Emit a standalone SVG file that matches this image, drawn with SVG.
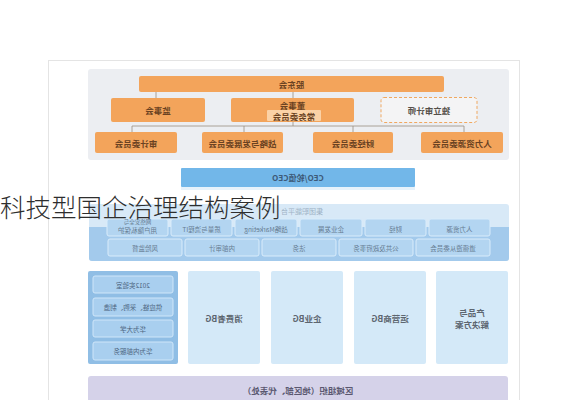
<svg xmlns="http://www.w3.org/2000/svg" width="566" height="400" viewBox="0 0 566 400">
<style>
.t{font-family:"Noto Sans CJK SC","Noto Sans",sans-serif;text-anchor:middle;dominant-baseline:central}
.o{fill:#f3a45b}
.ot{font-size:8.5px;font-weight:700;fill:#6a4222}
.bt{font-size:6.5px;fill:#667c92}
.fb{fill:#b3d5f1;stroke:#d9ecfb;stroke-width:1}
.col{fill:#d4e9f8}
.ct{font-size:8.5px;font-weight:700;fill:#5d6670}
.lt{font-size:6.5px;fill:#4d6580}
.ib{fill:#a9cfef;stroke:#cfe6f9;stroke-width:1}
.c{stroke:#9a8d80;stroke-width:0.8;fill:none}
</style>
<rect x="0" y="0" width="566" height="400" fill="#ffffff"/>
<rect x="48.5" y="60.5" width="471" height="345" fill="#ffffff" stroke="#e4e4e4"/>
<rect id="gov-panel" x="88" y="69" width="421" height="91" rx="3" fill="#eceef2"/>
<g id="connectors">
<line class="c" x1="156" y1="92" x2="156" y2="98"/>
<line class="c" x1="293" y1="92" x2="293" y2="98"/>
<line class="c" x1="293" y1="122" x2="293" y2="126"/>
<line class="c" x1="132" y1="126" x2="464" y2="126"/>
<line class="c" x1="132" y1="126" x2="132" y2="133"/>
<line class="c" x1="244" y1="126" x2="244" y2="133"/>
<line class="c" x1="353" y1="126" x2="353" y2="133"/>
<line class="c" x1="464" y1="126" x2="464" y2="133"/>
</g>
<g id="shareholders">
<rect class="o" x="139" y="76" width="305" height="16" rx="2"/>
<text class="t ot" x="291.5" y="84" transform="matrix(-1 0 0 1 583 0)">股东会</text>
</g>
<g id="supervisory">
<rect class="o" x="111" y="98" width="94" height="24" rx="2"/>
<text class="t ot" x="158" y="110" transform="matrix(-1 0 0 1 316 0)">监事会</text>
</g>
<g id="board">
<rect class="o" x="231" y="98" width="123" height="24" rx="2"/>
<text class="t ot" x="292.5" y="104.5" transform="matrix(-1 0 0 1 585 0)">董事会</text>
<rect x="267" y="110" width="54" height="11" rx="1" fill="#fbd2a6"/>
<text class="t ot" x="294" y="115.5" transform="matrix(-1 0 0 1 588 0)">常务委员会</text>
</g>
<g id="auditor">
<rect x="381" y="97.5" width="96" height="25" rx="3" fill="#f4f4f5" stroke="#f0a860" stroke-width="1" stroke-dasharray="3,2"/>
<text class="t ot" x="429" y="110" style="fill:#55504a" transform="matrix(-1 0 0 1 858 0)">独立审计师</text>
</g>
<g id="audit-committee">
<rect class="o" x="95" y="132" width="82" height="21" rx="2"/>
<text class="t ot" x="136" y="142.5" transform="matrix(-1 0 0 1 272 0)">审计委员会</text>
</g>
<g id="strategy-committee">
<rect class="o" x="202" y="132" width="81" height="21" rx="2"/>
<text class="t ot" x="242.5" y="142.5" transform="matrix(-1 0 0 1 485 0)">战略与发展委员会</text>
</g>
<g id="finance-committee">
<rect class="o" x="313" y="132" width="80" height="21" rx="2"/>
<text class="t ot" x="353" y="142.5" transform="matrix(-1 0 0 1 706 0)">财经委员会</text>
</g>
<g id="hr-committee">
<rect class="o" x="421" y="132" width="82" height="21" rx="2"/>
<text class="t ot" x="462" y="142.5" transform="matrix(-1 0 0 1 924 0)">人力资源委员会</text>
</g>
<g id="ceo">
<rect x="181" y="168" width="234" height="19" rx="1" fill="#72b7e9"/>
<rect x="181" y="187" width="234" height="3" fill="#e6f2fb"/>
<text class="t" x="298" y="177.5" style="font-size:8px;font-weight:700;fill:#3d5a78" transform="matrix(-1 0 0 1 596 0)">CEO/轮值CEO</text>
</g>
<g id="group-functions">
<rect x="89" y="204" width="420" height="57" rx="3" fill="#d8e9f7"/>
<path d="M89 227 H509 V258 a3 3 0 0 1 -3 3 H92 a3 3 0 0 1 -3 -3 Z" fill="#a3caec"/>
<text class="t" x="302" y="211" style="font-size:7px;fill:#9fb3c6" transform="matrix(-1 0 0 1 604 0)">集团职能平台</text>
<rect class="fb" x="107" y="219" width="61" height="17" rx="2"/>
<text class="t bt" x="137.5" y="222" style="font-size:5.5px" transform="matrix(-1 0 0 1 275 0)">网络安全与</text>
<text class="t bt" x="137.5" y="230" transform="matrix(-1 0 0 1 275 0)">用户隐私保护</text>
<rect class="fb" x="171" y="219" width="61" height="17" rx="2"/>
<text class="t bt" x="201.5" y="229" transform="matrix(-1 0 0 1 403 0)">质量与流程IT</text>
<rect class="fb" x="235" y="219" width="62" height="17" rx="2"/>
<text class="t bt" x="266" y="229" transform="matrix(-1 0 0 1 532 0)">战略Marketing</text>
<rect class="fb" x="300" y="219" width="62" height="17" rx="2"/>
<text class="t bt" x="331" y="229" transform="matrix(-1 0 0 1 662 0)">企业发展</text>
<rect class="fb" x="365" y="219" width="61" height="17" rx="2"/>
<text class="t bt" x="395.5" y="229" transform="matrix(-1 0 0 1 791 0)">财经</text>
<rect class="fb" x="429" y="219" width="61" height="17" rx="2"/>
<text class="t bt" x="459.5" y="229" transform="matrix(-1 0 0 1 919 0)">人力资源</text>
<rect class="fb" x="108" y="239" width="74" height="17" rx="2"/>
<text class="t bt" x="145" y="247.5" transform="matrix(-1 0 0 1 290 0)">风险监督</text>
<rect class="fb" x="185" y="239" width="74" height="17" rx="2"/>
<text class="t bt" x="222" y="247.5" transform="matrix(-1 0 0 1 444 0)">内部审计</text>
<rect class="fb" x="262" y="239" width="74" height="17" rx="2"/>
<text class="t bt" x="299" y="247.5" transform="matrix(-1 0 0 1 598 0)">法务</text>
<rect class="fb" x="339" y="239" width="74" height="17" rx="2"/>
<text class="t bt" x="376" y="247.5" transform="matrix(-1 0 0 1 752 0)">公共及政府事务</text>
<rect class="fb" x="416" y="239" width="74" height="17" rx="2"/>
<text class="t bt" x="453" y="247.5" transform="matrix(-1 0 0 1 906 0)">道德遵从委员会</text>
</g>
<g id="platforms">
<rect x="88" y="271" width="90" height="93" rx="2" fill="#90bee5"/>
<rect class="ib" x="93" y="276" width="80" height="17" rx="2"/>
<text class="t lt" x="133" y="284.5" transform="matrix(-1 0 0 1 266 0)">2012实验室</text>
<rect class="ib" x="93" y="298" width="80" height="18" rx="2"/>
<text class="t lt" x="133" y="307" transform="matrix(-1 0 0 1 266 0)">供应链、采购、制造</text>
<rect class="ib" x="93" y="320" width="80" height="17" rx="2"/>
<text class="t lt" x="133" y="328.5" transform="matrix(-1 0 0 1 266 0)">华为大学</text>
<rect class="ib" x="93" y="342" width="80" height="18" rx="2"/>
<text class="t lt" x="133" y="351" transform="matrix(-1 0 0 1 266 0)">华为内部服务</text>
</g>
<g id="consumer-bg">
<rect class="col" x="188" y="271" width="72" height="93" rx="2"/>
<text class="t ct" x="224" y="318" transform="matrix(-1 0 0 1 448 0)">消费者BG</text>
</g>
<g id="enterprise-bg">
<rect class="col" x="271" y="271" width="72" height="93" rx="2"/>
<text class="t ct" x="307" y="318" transform="matrix(-1 0 0 1 614 0)">企业BG</text>
</g>
<g id="carrier-bg">
<rect class="col" x="354" y="271" width="72" height="93" rx="2"/>
<text class="t ct" x="390" y="318" transform="matrix(-1 0 0 1 780 0)">运营商BG</text>
</g>
<g id="products">
<rect class="col" x="436" y="271" width="72" height="93" rx="2"/>
<text class="t ct" x="472" y="312" transform="matrix(-1 0 0 1 944 0)">产品与</text>
<text class="t ct" x="472" y="324" transform="matrix(-1 0 0 1 944 0)">解决方案</text>
</g>
<g id="regions">
<rect x="88" y="376" width="420" height="30" rx="3" fill="#d5d2e9"/>
<text class="t" x="298" y="390" style="font-size:8.5px;font-weight:700;fill:#5a5870" transform="matrix(-1 0 0 1 596 0)">区域组织（地区部、代表处）</text>
</g>
<text x="0" y="216.5" style="font-family:'Noto Sans CJK SC','Noto Sans',sans-serif;font-size:25.5px;font-weight:300;fill:#2e2e2e">科技型国企治理结构案例</text>
</svg>
